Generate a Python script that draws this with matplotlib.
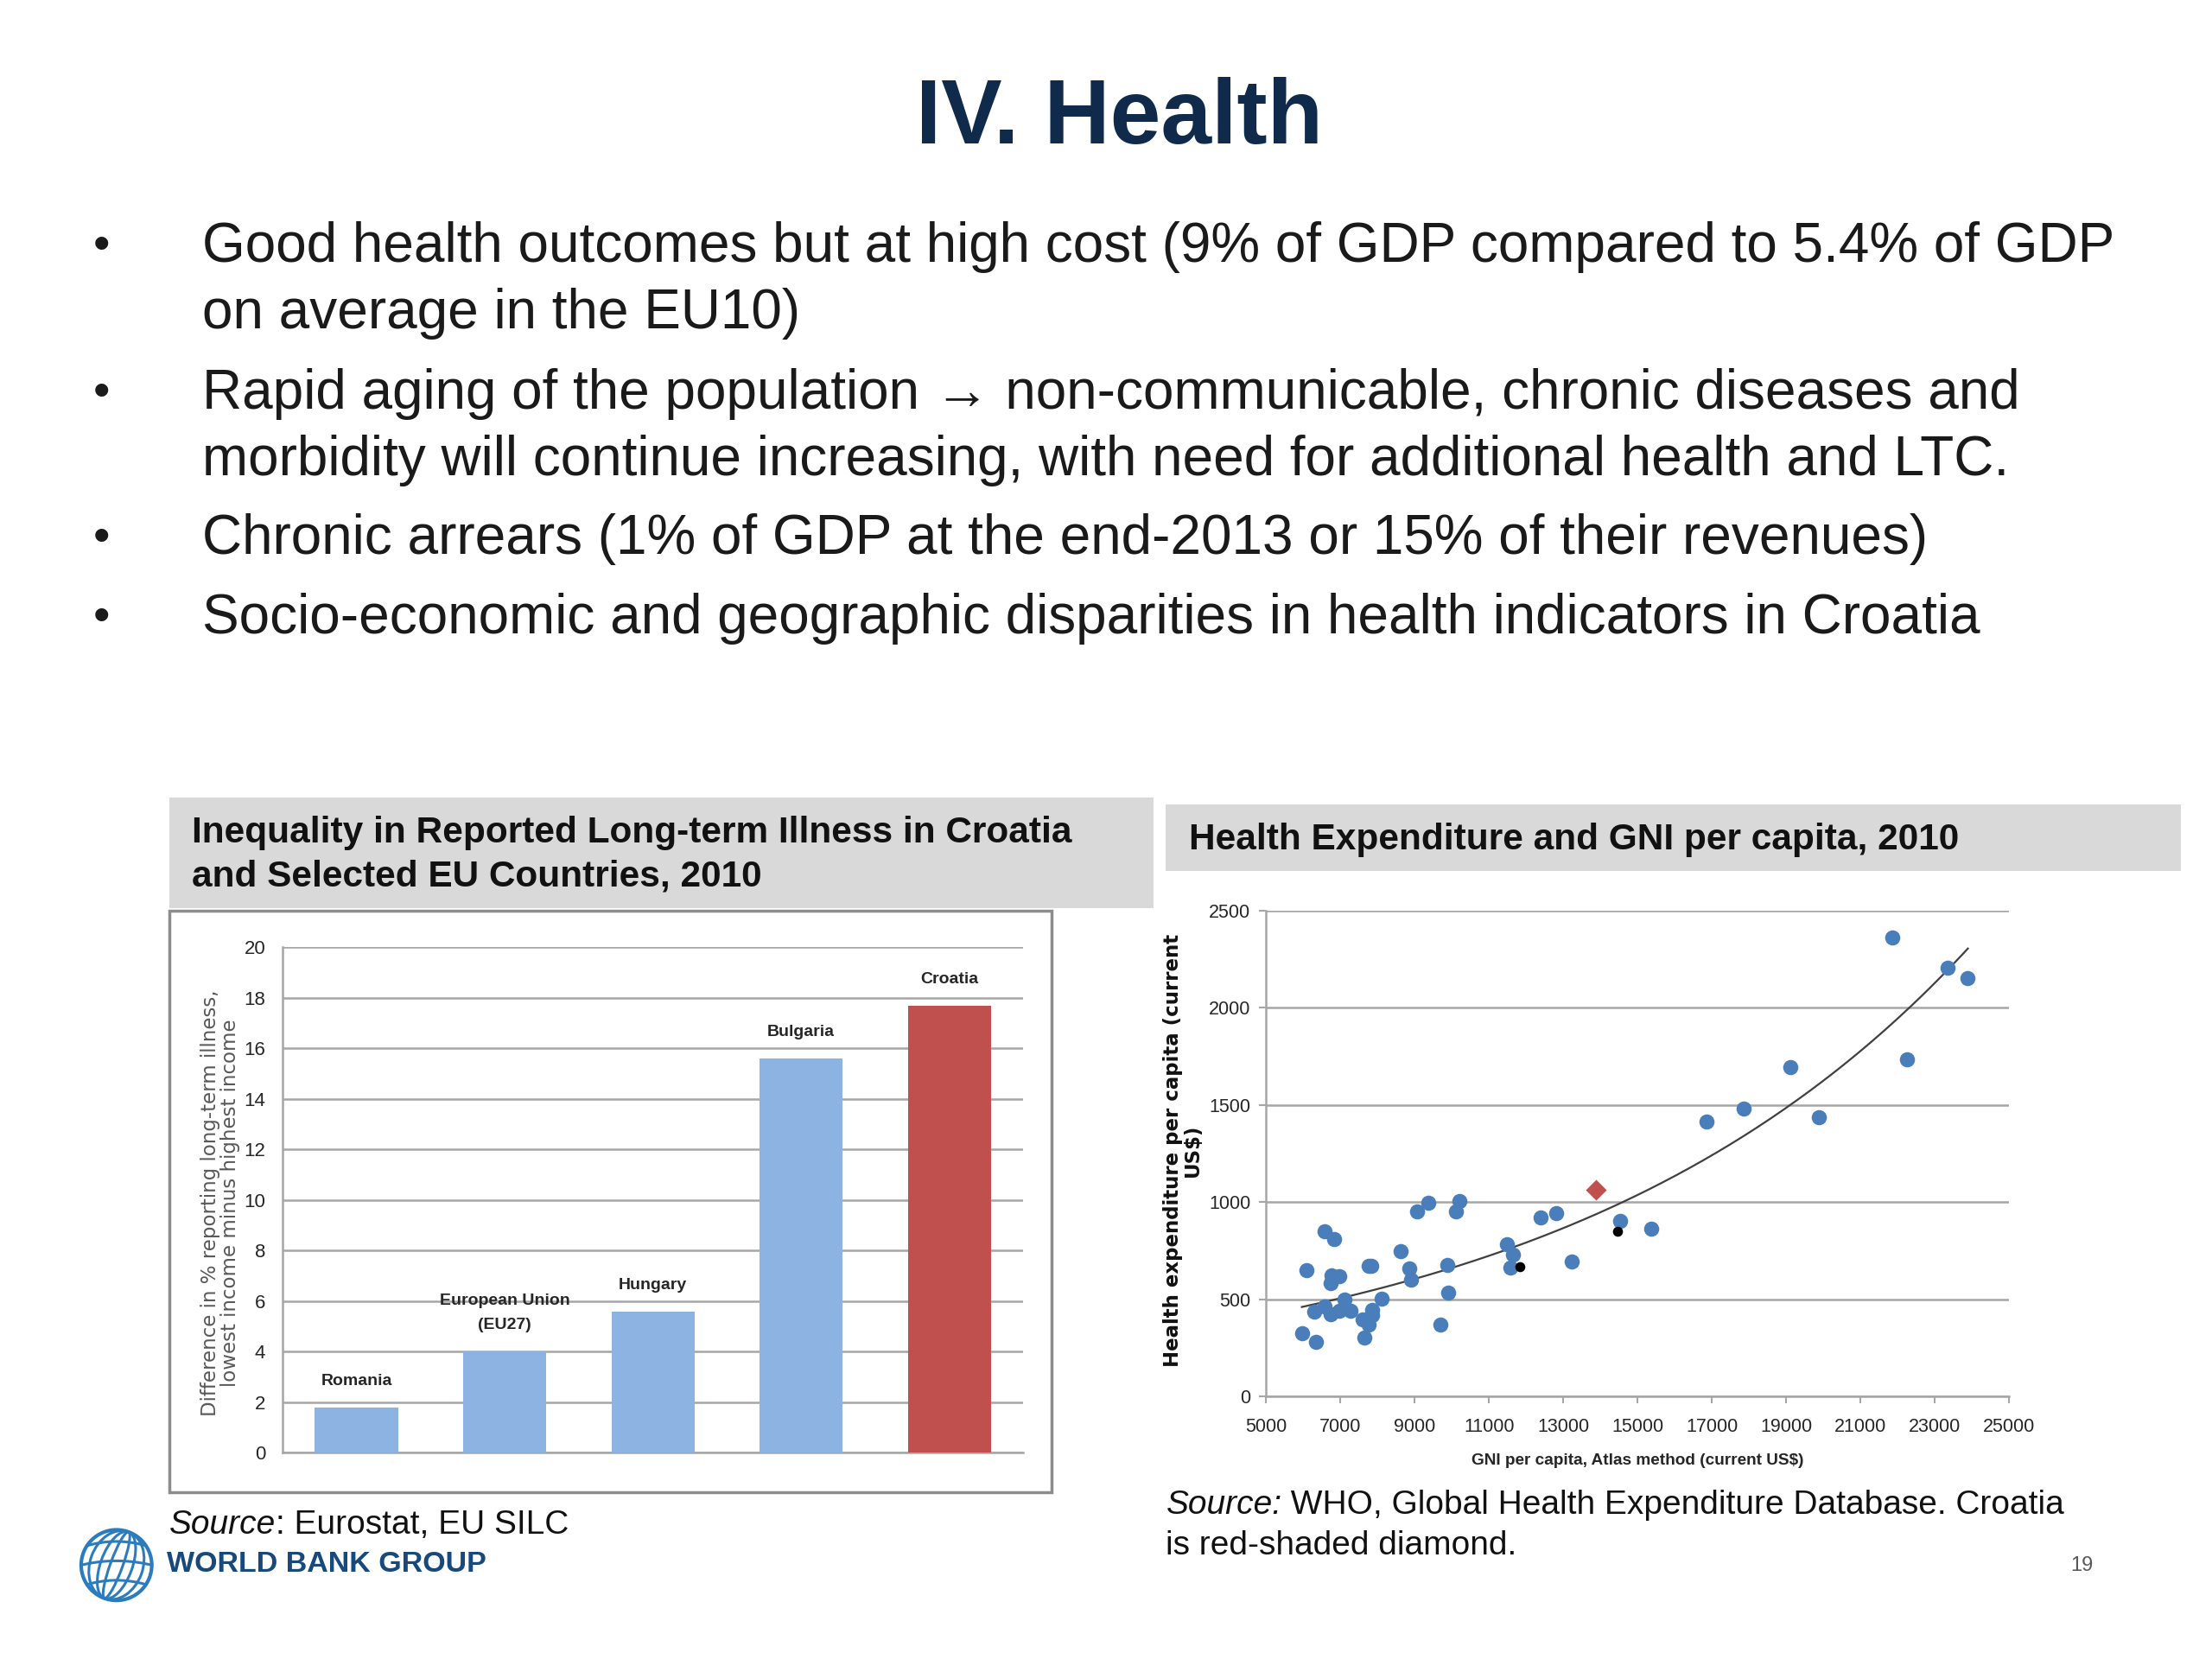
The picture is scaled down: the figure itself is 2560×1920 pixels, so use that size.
import numpy as np
import matplotlib.pyplot as plt
from matplotlib.patches import Rectangle, Circle, Ellipse

plt.rcParams['font.family'] = ['Liberation Sans', 'DejaVu Sans']
NARROW = ['Liberation Sans Narrow', 'Liberation Sans', 'DejaVu Sans']

# slide text
title = 'IV. Health'
bullets = [
    ['Good health outcomes but at high cost (9% of GDP compared to 5.4% of GDP',
     'on average in the EU10)'],
    ['Rapid aging of the population \u2192 non-communicable, chronic diseases and',
     'morbidity will continue increasing, with need for additional health and LTC.'],
    ['Chronic arrears (1% of GDP at the end-2013 or 15% of their revenues)'],
    ['Socio-economic and geographic disparities in health indicators in Croatia'],
]

# left chart: difference in long-term illness, lowest minus highest income
countries = ['Romania', 'European Union\n(EU27)', 'Hungary', 'Bulgaria', 'Croatia']
illness_gap = [1.8, 4.0, 5.6, 15.6, 17.7]
bar_ticks = list(range(0, 21, 2))

# right chart: health expenditure vs GNI per capita
gni_blue = [5960, 6330, 6090, 6290, 6580, 6830, 6580, 6730, 6730, 6750,
            6980, 6980, 7110, 7270, 7600, 7640, 7750, 7750, 7830, 7850,
            7850, 8120, 8630, 8860, 8910, 9070, 9360, 9690, 9880, 9900,
            10110, 10210, 11490, 11640, 11580, 12390, 12820, 13240, 14540, 15370,
            16850, 17870, 19110, 19880, 21870, 22250, 23360, 23900]
hexp_blue = [325, 282, 648, 435, 848, 811, 464, 421, 584, 621,
             618, 442, 498, 442, 396, 302, 370, 674, 674, 447,
             420, 502, 746, 660, 601, 954, 997, 370, 677, 532,
             954, 1005, 783, 729, 664, 922, 945, 695, 901, 862,
             1415, 1483, 1695, 1437, 2364, 1733, 2205, 2151]
gni_black = [11830, 14460]
hexp_black = [669, 848]
gni_croatia = [13880]
hexp_croatia = [1065]
x_ticks = list(range(5000, 25001, 2000))
y_ticks = list(range(0, 2501, 500))

bar_colors = ['#8db3e2', '#8db3e2', '#8db3e2', '#8db3e2', '#c0504d']


# layout measured on a reduced view of the slide
def fx(x):
    return x / 1567


def fy(y):
    return 1 - y / 1175


def box(x0, y0, x1, y1):
    return [fx(x0), fy(y1), fx(x1) - fx(x0), fy(y0) - fy(y1)]


fig = plt.figure(figsize=(25.6, 19.2), dpi=100)
fig.patch.set_facecolor('white')

# title and bullets
fig.text(0.506, fy(85), title, ha='center', va='center', fontsize=76,
         fontweight='bold', color='#0f2a4a')
rows = [175, 222, 279, 326, 382, 438]
k = 0
for item in bullets:
    fig.text(fx(72), fy(rows[k]), '\u2022', ha='center', va='center', fontsize=40, color='#1a1a1a')
    for line in item:
        fig.text(fx(143), fy(rows[k]), line, ha='left', va='center', fontsize=46, color='#1a1a1a')
        k += 1

# panel headers
b = box(120, 565, 817, 643)
fig.patches.append(Rectangle((b[0], b[1]), b[2], b[3], transform=fig.transFigure,
                             facecolor='#d9d9d9', edgecolor='none', zorder=-2))
fig.text(fx(136), fy(590), 'Inequality in Reported Long-term Illness in Croatia',
         fontsize=30.5, fontweight='bold', va='center', color='#111111')
fig.text(fx(136), fy(621), 'and Selected EU Countries, 2010',
         fontsize=30.5, fontweight='bold', va='center', color='#111111')
b = box(826, 570, 1545, 617)
fig.patches.append(Rectangle((b[0], b[1]), b[2], b[3], transform=fig.transFigure,
                             facecolor='#d9d9d9', edgecolor='none', zorder=-2))
fig.text(fx(842), fy(595), 'Health Expenditure and GNI per capita, 2010',
         fontsize=30.5, fontweight='bold', va='center', color='#111111')

# bar chart frame
b = box(120, 645, 745, 1057)
fig.patches.append(Rectangle((b[0], b[1]), b[2], b[3], transform=fig.transFigure,
                             facecolor='white', edgecolor='#8c8c8c', linewidth=2.5, zorder=-1))

ax1 = fig.add_axes(box(200, 671, 725, 1029))
ax1.patch.set_alpha(0)
xpos = np.arange(len(countries))
ax1.bar(xpos, illness_gap, width=0.56, color=bar_colors, zorder=3)
for x, v, name in zip(xpos, illness_gap, countries):
    ax1.text(x, v + 0.75, name, ha='center', va='bottom', fontsize=14, fontweight='bold',
             family=NARROW, color='#262626', linespacing=1.9)
ax1.set_xlim(-0.5, 4.5)
ax1.set_ylim(0, 20)
ax1.set_yticks(bar_ticks)
ax1.set_xticks([])
ax1.yaxis.grid(True, color='#a6a6a6', linewidth=1.8, zorder=0)
ax1.set_axisbelow(True)
for s in ['top', 'right']:
    ax1.spines[s].set_visible(False)
for s in ['left', 'bottom']:
    ax1.spines[s].set_color('#a6a6a6')
    ax1.spines[s].set_linewidth(1.8)
ax1.tick_params(axis='y', length=0, pad=14, labelsize=16, labelcolor='#262626',
                labelfontfamily=NARROW)
fig.text(fx(156), fy(852), 'Difference in % reporting long-term illness,\nlowest income minus highest income',
         rotation=90, ha='center', va='center', fontsize=16.5, family='DejaVu Sans',
         color='#595959', multialignment='center', linespacing=1.0)

# scatter chart
ax2 = fig.add_axes(box(897, 645, 1423, 989))
ax2.scatter(gni_blue, hexp_blue, s=160, color='#4a7ebb', zorder=3, linewidths=0)
ax2.scatter(gni_black, hexp_black, s=70, color='black', zorder=4, linewidths=0)
ax2.scatter(gni_croatia, hexp_croatia, s=150, marker='D', color='#c0504d', zorder=4, linewidths=0)

# exponential trendline fitted to all points (as in Excel)
gx = np.array(gni_blue + gni_black + gni_croatia, dtype=float)
gy = np.array(hexp_blue + hexp_black + hexp_croatia, dtype=float)
slope, lna = np.polyfit(gx, np.log(gy), 1)
tx = np.linspace(gx.min(), gx.max(), 200)
ax2.plot(tx, np.exp(lna) * np.exp(slope * tx), color='#404040', linewidth=1.6, zorder=2)

ax2.set_xlim(5000, 25000)
ax2.set_ylim(0, 2500)
ax2.set_xticks(x_ticks)
ax2.set_yticks(y_ticks)
ax2.yaxis.grid(True, color='#a6a6a6', linewidth=1.8, zorder=0)
ax2.set_axisbelow(True)
for s in ['top', 'right']:
    ax2.spines[s].set_visible(False)
for s in ['left', 'bottom']:
    ax2.spines[s].set_color('#a6a6a6')
    ax2.spines[s].set_linewidth(1.8)
ax2.tick_params(axis='both', direction='out', length=6, width=1.5, color='#a6a6a6',
                labelsize=15.5, labelcolor='#262626', labelfontfamily=NARROW)
ax2.tick_params(axis='x', pad=12)
ax2.tick_params(axis='y', pad=7)
ax2.set_xlabel('GNI per capita, Atlas method (current US$)', fontsize=13.7, fontweight='bold',
               family=NARROW, color='#262626', labelpad=14)
fig.text(fx(838), fy(815), 'Health expenditure per capita (current\nUS$)', rotation=90,
         ha='center', va='center', fontsize=16.5, fontweight='bold', family='DejaVu Sans',
         color='#111111', multialignment='center', linespacing=1.0)

# sources
renderer = fig.canvas.get_renderer()


def source_line(x, y, italic, rest, size):
    t = fig.text(x, y, italic, fontsize=size, style='italic', va='center', color='#111111')
    bb = t.get_window_extent(renderer=renderer)
    fig.text(x + bb.width / fig.bbox.width, y, rest, fontsize=size, va='center', color='#111111')


source_line(fx(120), fy(1080), 'Source', ': Eurostat, EU SILC', 28)
source_line(fx(826), fy(1066), 'Source:', ' WHO, Global Health Expenditure Database. Croatia', 28)
fig.text(fx(826), fy(1095), 'is red-shaded diamond.', fontsize=28, va='center', color='#111111')
fig.text(fx(1475), fy(1109), '19', fontsize=17, ha='center', va='center', color='#595959')

# World Bank Group logo
lg = fig.add_axes(box(55, 1080, 110, 1137))
lg.set_xlim(-1.1, 1.1)
lg.set_ylim(-1.1, 1.1)
lg.set_aspect('equal')
lg.axis('off')
lg.add_patch(Circle((0, 0), 1.0, fill=False, edgecolor='#2b7bbf', linewidth=3))
for w in [0.35, 0.9, 1.5]:
    lg.add_patch(Ellipse((0, 0), w, 2.0, angle=-20, fill=False, edgecolor='#2b7bbf', linewidth=2.2))
for yy in [-0.55, 0.0, 0.55]:
    half = np.sqrt(1 - yy ** 2)
    xs = np.linspace(-half, half, 50)
    lg.plot(xs, yy + 0.12 * (1 - (xs / half) ** 2), color='#2b7bbf', linewidth=2.2)
fig.text(fx(118), fy(1108), 'WORLD BANK GROUP', fontsize=24.5, fontweight='bold', va='center',
         color='#17497c', family=NARROW)

fig.savefig('out.png', dpi=100, facecolor='white')
